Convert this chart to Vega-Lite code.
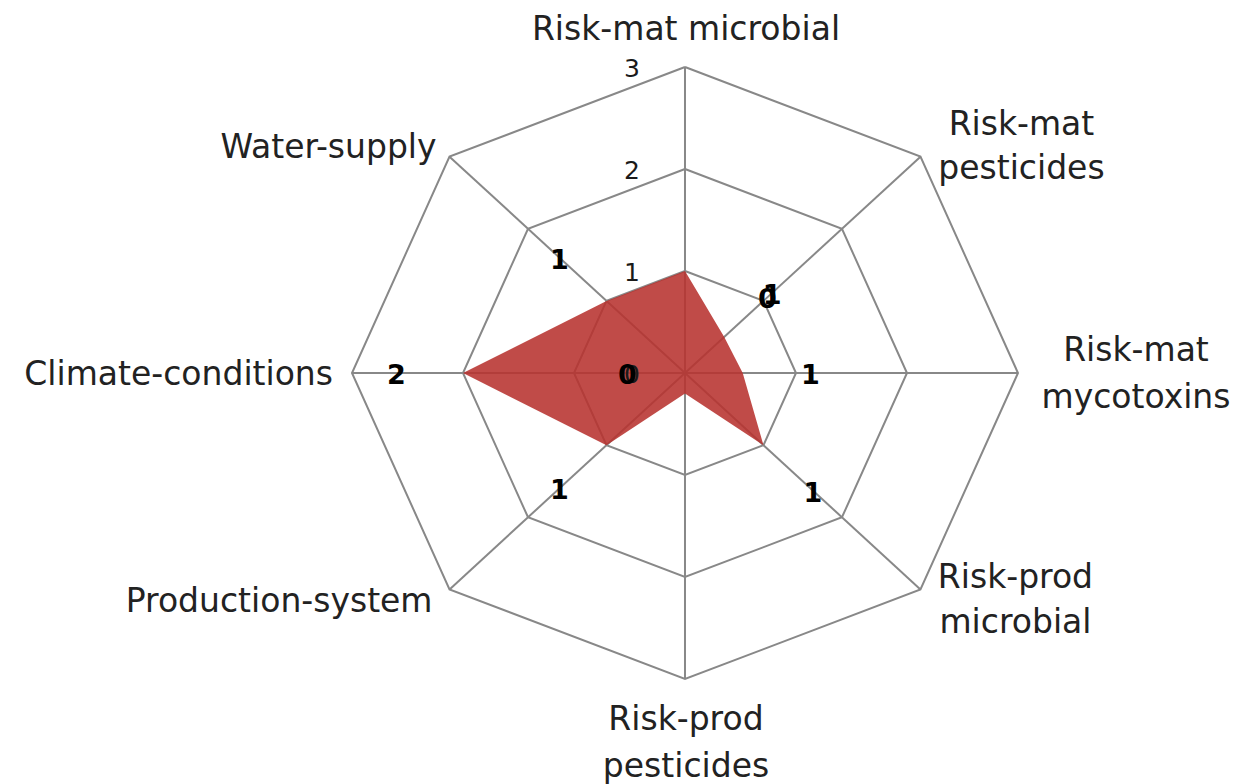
{
  "$schema": "https://vega.github.io/schema/vega-lite/v6.json",
  "width": 1239,
  "height": 784,
  "autosize": "none",
  "padding": 0,
  "background": "white",
  "config": {"view": {"stroke": null}},
  "datasets": {
    "axes": [
      {"axis": 0, "r": 3, "name": "Risk-mat microbial"},
      {"axis": 1, "r": 3, "name": "Risk-mat|pesticides"},
      {"axis": 2, "r": 3, "name": "Risk-mat|mycotoxins"},
      {"axis": 3, "r": 3, "name": "Risk-prod|microbial"},
      {"axis": 4, "r": 3, "name": "Risk-prod|pesticides"},
      {"axis": 5, "r": 3, "name": "Production-system"},
      {"axis": 6, "r": 3, "name": "Climate-conditions"},
      {"axis": 7, "r": 3, "name": "Water-supply"}
    ],
    "series": [
      {"axis": 0, "category": "Risk-mat microbial", "value": 1},
      {"axis": 1, "category": "Risk-mat pesticides", "value": 0.5},
      {"axis": 2, "category": "Risk-mat mycotoxins", "value": 0.52},
      {"axis": 3, "category": "Risk-prod microbial", "value": 1},
      {"axis": 4, "category": "Risk-prod pesticides", "value": 0.2},
      {"axis": 5, "category": "Production-system", "value": 1},
      {"axis": 6, "category": "Climate-conditions", "value": 2},
      {"axis": 7, "category": "Water-supply", "value": 1}
    ],
    "rings": [
      {"r": 1, "axis": [0, 1, 2, 3, 4, 5, 6, 7, 8]},
      {"r": 2, "axis": [0, 1, 2, 3, 4, 5, 6, 7, 8]},
      {"r": 3, "axis": [0, 1, 2, 3, 4, 5, 6, 7, 8]}
    ],
    "ticks": [
      {"axis": 0, "r": 0, "label": "0"},
      {"axis": 0, "r": 1, "label": "1"},
      {"axis": 0, "r": 2, "label": "2"},
      {"axis": 0, "r": 3, "label": "3"}
    ],
    "dataLabels": [
      {"axis": 7, "r": 1.6, "label": "1"},
      {"axis": 6, "r": 2.6, "label": "2"},
      {"axis": 5, "r": 1.6, "label": "1"},
      {"axis": 3, "r": 1.63, "label": "1"},
      {"axis": 2, "r": 1.13, "label": "1"},
      {"axis": 1, "r": 1.05, "label": "0"},
      {"axis": 1, "r": 1.11, "label": "1"},
      {"axis": 6, "r": 0.52, "label": "0"}
    ]
  },
  "encoding": {
    "x": {"field": "X", "type": "quantitative", "axis": null, "scale": {"domain": [-6.171, 4.991], "nice": false, "zero": false}},
    "y": {"field": "Y", "type": "quantitative", "axis": null, "scale": {"domain": [-4.029, 3.657], "nice": false, "zero": false}}
  },
  "layer": [
    {
      "data": {"name": "rings"},
      "transform": [
        {"flatten": ["axis"]},
        {"calculate": "datum.r * sin(datum.axis * PI / 4)", "as": "X"},
        {"calculate": "datum.r * cos(datum.axis * PI / 4)", "as": "Y"}
      ],
      "mark": {"type": "line", "color": "#888888", "strokeWidth": 2},
      "encoding": {
        "detail": {"field": "r", "type": "nominal"},
        "order": {"field": "axis", "type": "quantitative"}
      }
    },
    {
      "data": {"name": "axes"},
      "transform": [
        {"calculate": "datum.r * sin(datum.axis * PI / 4)", "as": "X"},
        {"calculate": "datum.r * cos(datum.axis * PI / 4)", "as": "Y"}
      ],
      "mark": {"type": "rule", "color": "#888888", "strokeWidth": 2},
      "encoding": {
        "x2": {"datum": 0},
        "y2": {"datum": 0}
      }
    },
    {
      "data": {"name": "series"},
      "transform": [
        {"calculate": "datum.value * sin(datum.axis * PI / 4)", "as": "X"},
        {"calculate": "datum.value * cos(datum.axis * PI / 4)", "as": "Y"}
      ],
      "mark": {"type": "line", "filled": true, "fill": "#b7322f", "fillOpacity": 0.88, "strokeWidth": 0},
      "encoding": {
        "order": {"field": "axis", "type": "quantitative"}
      }
    },
    {
      "data": {"name": "ticks"},
      "transform": [
        {"calculate": "datum.r * sin(datum.axis * PI / 4)", "as": "X"},
        {"calculate": "datum.r * cos(datum.axis * PI / 4)", "as": "Y"}
      ],
      "mark": {"type": "text", "align": "right", "baseline": "middle", "dx": -45, "dy": 2, "font": "DejaVu Sans", "fontSize": 25, "color": "#1a1a1a"},
      "encoding": {"text": {"field": "label", "type": "nominal"}}
    },
    {
      "data": {"name": "dataLabels"},
      "transform": [
        {"calculate": "datum.r * sin(datum.axis * PI / 4)", "as": "X"},
        {"calculate": "datum.r * cos(datum.axis * PI / 4)", "as": "Y"}
      ],
      "mark": {"type": "text", "align": "center", "baseline": "middle", "dy": 3, "font": "DejaVu Sans", "fontSize": 27, "fontWeight": "bold", "color": "#000000"},
      "encoding": {"text": {"field": "label", "type": "nominal"}}
    },
    {
      "data": {"name": "axes"},
      "transform": [
        {"filter": "datum.axis == 0"},
        {"calculate": "datum.r * sin(datum.axis * PI / 4)", "as": "X"},
        {"calculate": "datum.r * cos(datum.axis * PI / 4)", "as": "Y"}
      ],
      "mark": {"type": "text", "align": "center", "baseline": "middle", "dx": 1, "dy": -37, "lineBreak": "|", "lineHeight": 46, "font": "DejaVu Sans", "fontSize": 33, "color": "#222222"},
      "encoding": {"text": {"field": "name", "type": "nominal"}}
    },
    {
      "data": {"name": "axes"},
      "transform": [
        {"filter": "datum.axis == 1"},
        {"calculate": "datum.r * sin(datum.axis * PI / 4)", "as": "X"},
        {"calculate": "datum.r * cos(datum.axis * PI / 4)", "as": "Y"}
      ],
      "mark": {"type": "text", "align": "center", "baseline": "middle", "dx": 101, "dy": -32, "lineBreak": "|", "lineHeight": 44, "font": "DejaVu Sans", "fontSize": 33, "color": "#222222"},
      "encoding": {"text": {"field": "name", "type": "nominal"}}
    },
    {
      "data": {"name": "axes"},
      "transform": [
        {"filter": "datum.axis == 2"},
        {"calculate": "datum.r * sin(datum.axis * PI / 4)", "as": "X"},
        {"calculate": "datum.r * cos(datum.axis * PI / 4)", "as": "Y"}
      ],
      "mark": {"type": "text", "align": "center", "baseline": "middle", "dx": 118, "dy": -22, "lineBreak": "|", "lineHeight": 47, "font": "DejaVu Sans", "fontSize": 33, "color": "#222222"},
      "encoding": {"text": {"field": "name", "type": "nominal"}}
    },
    {
      "data": {"name": "axes"},
      "transform": [
        {"filter": "datum.axis == 3"},
        {"calculate": "datum.r * sin(datum.axis * PI / 4)", "as": "X"},
        {"calculate": "datum.r * cos(datum.axis * PI / 4)", "as": "Y"}
      ],
      "mark": {"type": "text", "align": "center", "baseline": "middle", "dx": 95, "dy": -11, "lineBreak": "|", "lineHeight": 45, "font": "DejaVu Sans", "fontSize": 33, "color": "#222222"},
      "encoding": {"text": {"field": "name", "type": "nominal"}}
    },
    {
      "data": {"name": "axes"},
      "transform": [
        {"filter": "datum.axis == 4"},
        {"calculate": "datum.r * sin(datum.axis * PI / 4)", "as": "X"},
        {"calculate": "datum.r * cos(datum.axis * PI / 4)", "as": "Y"}
      ],
      "mark": {"type": "text", "align": "center", "baseline": "middle", "dx": 1, "dy": 41, "lineBreak": "|", "lineHeight": 47, "font": "DejaVu Sans", "fontSize": 33, "color": "#222222"},
      "encoding": {"text": {"field": "name", "type": "nominal"}}
    },
    {
      "data": {"name": "axes"},
      "transform": [
        {"filter": "datum.axis == 5"},
        {"calculate": "datum.r * sin(datum.axis * PI / 4)", "as": "X"},
        {"calculate": "datum.r * cos(datum.axis * PI / 4)", "as": "Y"}
      ],
      "mark": {"type": "text", "align": "right", "baseline": "middle", "dx": -17, "dy": 13, "lineBreak": "|", "font": "DejaVu Sans", "fontSize": 33, "color": "#222222"},
      "encoding": {"text": {"field": "name", "type": "nominal"}}
    },
    {
      "data": {"name": "axes"},
      "transform": [
        {"filter": "datum.axis == 6"},
        {"calculate": "datum.r * sin(datum.axis * PI / 4)", "as": "X"},
        {"calculate": "datum.r * cos(datum.axis * PI / 4)", "as": "Y"}
      ],
      "mark": {"type": "text", "align": "right", "baseline": "middle", "dx": -19, "dy": 2, "lineBreak": "|", "font": "DejaVu Sans", "fontSize": 33, "color": "#222222"},
      "encoding": {"text": {"field": "name", "type": "nominal"}}
    },
    {
      "data": {"name": "axes"},
      "transform": [
        {"filter": "datum.axis == 7"},
        {"calculate": "datum.r * sin(datum.axis * PI / 4)", "as": "X"},
        {"calculate": "datum.r * cos(datum.axis * PI / 4)", "as": "Y"}
      ],
      "mark": {"type": "text", "align": "right", "baseline": "middle", "dx": -13, "dy": -9, "lineBreak": "|", "font": "DejaVu Sans", "fontSize": 33, "color": "#222222"},
      "encoding": {"text": {"field": "name", "type": "nominal"}}
    }
  ]
}
